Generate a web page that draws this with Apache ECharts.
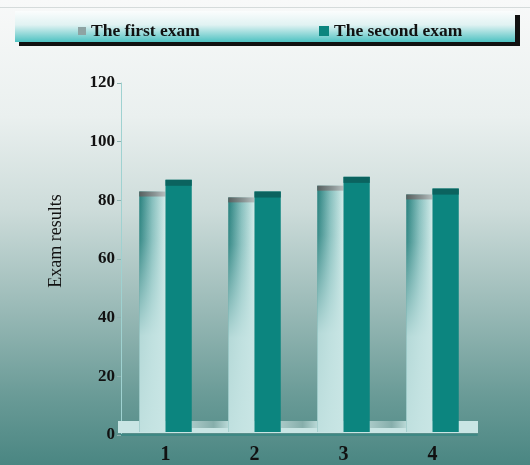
<!DOCTYPE html>
<html>
<head>
<meta charset="utf-8">
<script src="https://cdn.jsdelivr.net/npm/echarts@6/dist/echarts.min.js"></script>
<style>
  html, body { margin: 0; padding: 0; }
  #chart { width: 530px; height: 465px; }
</style>
</head>
<body>
<div id="chart"></div>
<script>
// Exam scores per class group
const categories = ['1', '2', '3', '4'];
const firstExam = [83, 81, 85, 82];
const secondExam = [87, 83, 88, 84];
const seriesNames = ['The first exam', 'The second exam'];
const yAxisTitle = 'Exam results';
const yMin = 0, yMax = 120, yStep = 20;

const SERIF = '"Liberation Serif", "DejaVu Serif", serif';

function barRenderer(which) {
  return function (params, api) {
    const cat = api.value(0);
    const val = api.value(1);
    const top = api.coord([cat, val]);
    const base = api.coord([cat, 0]);
    const band = api.size([1, 0])[0];
    const w = band * 0.295;
    const x = which === 0 ? top[0] - w : top[0];
    const y = top[1];
    const h = base[1] - top[1] - 3;
    const capH = 5;
    const children = [];
    if (which === 0) {
      children.push({
        type: 'rect',
        shape: { x: x, y: y, width: w, height: h },
        style: {
          fill: new echarts.graphic.LinearGradient(0, 0, 1, 0, [
            { offset: 0, color: '#27807d' },
            { offset: 0.5, color: '#86bfbd' },
            { offset: 1, color: '#d3ecea' }
          ])
        }
      });
      children.push({
        type: 'rect',
        shape: { x: x, y: y, width: w, height: h },
        style: {
          fill: new echarts.graphic.LinearGradient(0, 0, 0, 1, [
            { offset: 0, color: 'rgba(200,229,228,0)' },
            { offset: 0.2, color: 'rgba(200,229,228,0.1)' },
            { offset: 0.6, color: 'rgba(200,229,228,0.88)' },
            { offset: 1, color: 'rgba(200,229,228,0.95)' }
          ])
        }
      });
      children.push({
        type: 'rect',
        shape: { x: x, y: y, width: w, height: capH },
        style: {
          fill: new echarts.graphic.LinearGradient(0, 0, 1, 0, [
            { offset: 0, color: '#56605f' },
            { offset: 0.6, color: '#8b9595' },
            { offset: 1, color: '#b7bfbf' }
          ])
        }
      });
    } else {
      children.push({
        type: 'rect',
        shape: { x: x, y: y, width: w, height: h },
        style: { fill: '#0c857f' }
      });
      children.push({
        type: 'rect',
        shape: { x: x, y: y, width: w, height: capH + 1 },
        style: { fill: '#0b635f' }
      });
    }
    return { type: 'group', children: children };
  };
}

function floorRenderer(params, api) {
  const cs = params.coordSys;
  const band = api.size([1, 0])[0];
  const w = band * 0.295;
  const bottom = cs.y + cs.height;
  const children = [{
    type: 'rect',
    shape: { x: cs.x - 3, y: bottom - 14, width: cs.width + 4, height: 12 },
    style: { fill: '#c9e5e4' }
  }];
  // shading on the floor between neighbouring groups
  for (let i = 0; i < categories.length - 1; i++) {
    const c0 = api.coord([i, 0])[0];
    const c1 = api.coord([i + 1, 0])[0];
    children.push({
      type: 'rect',
      shape: { x: c0 + w, y: bottom - 14, width: (c1 - w) - (c0 + w), height: 7 },
      style: {
        fill: new echarts.graphic.LinearGradient(0, 0, 1, 0, [
          { offset: 0, color: '#a9c9c7' },
          { offset: 0.6, color: '#86aeab' },
          { offset: 1, color: '#b9d8d6' }
        ])
      }
    });
  }
  return { type: 'group', children: children };
}

const chart = echarts.init(document.getElementById('chart'), null, { renderer: 'canvas' });

const option = {
  animation: false,
  backgroundColor: new echarts.graphic.LinearGradient(0, 0, 0, 1, [
    { offset: 0, color: '#f8f9f9' },
    { offset: 0.25, color: '#eaf0ef' },
    { offset: 0.45, color: '#cddcda' },
    { offset: 0.65, color: '#9dbcb9' },
    { offset: 0.85, color: '#6a9b97' },
    { offset: 1, color: '#4a8682' }
  ]),
  graphic: [
    { type: 'line', z: 0, shape: { x1: 0, y1: 7.5, x2: 530, y2: 7.5 }, style: { stroke: '#d5dbdb', lineWidth: 1 } },
    { type: 'rect', z: 0, shape: { x: 19, y: 15, width: 501, height: 31 }, style: { fill: '#111111' } },
    {
      type: 'rect', z: 1, shape: { x: 15, y: 11, width: 500, height: 31 },
      style: {
        fill: new echarts.graphic.LinearGradient(0, 0, 0, 1, [
          { offset: 0, color: '#fbfdfd' },
          { offset: 0.45, color: '#e0f2f2' },
          { offset: 1, color: '#4ec2c2' }
        ])
      }
    },
    {
      type: 'text', z: 10, x: 56, y: 241, rotation: Math.PI / 2,
      style: {
        text: yAxisTitle, fontFamily: SERIF, fontSize: 18, fill: '#111',
        textAlign: 'center', textVerticalAlign: 'middle'
      }
    }
  ],
  legend: [
    {
      z: 10, left: 73, top: 17, itemWidth: 8, itemHeight: 8, itemGap: 10,
      icon: 'rect',
      textStyle: { fontFamily: SERIF, fontWeight: 'bold', fontSize: 17.5, color: '#111' },
      data: [{ name: seriesNames[0], itemStyle: { color: '#8ea3a3' } }]
    },
    {
      z: 10, left: 314, top: 17, itemWidth: 10, itemHeight: 10, itemGap: 9,
      icon: 'rect',
      textStyle: { fontFamily: SERIF, fontWeight: 'bold', fontSize: 17.5, color: '#111' },
      data: [{ name: seriesNames[1], itemStyle: { color: '#0c857f' } }]
    }
  ],
  grid: { left: 121, right: 53, top: 83, bottom: 30, containLabel: false },
  xAxis: {
    type: 'category',
    data: categories,
    axisLine: { lineStyle: { color: '#3e8884', width: 2 } },
    axisTick: { show: false },
    axisLabel: { fontFamily: SERIF, fontWeight: 'bold', fontSize: 20, color: '#111', margin: 10 },
    splitLine: { show: false }
  },
  yAxis: {
    type: 'value',
    min: yMin, max: yMax, interval: yStep,
    axisLine: { show: true, lineStyle: { color: '#9fd2d1', width: 1 } },
    axisTick: { show: true, length: 4, lineStyle: { color: '#8fb0ae' } },
    axisLabel: { fontFamily: SERIF, fontWeight: 'bold', fontSize: 17, color: '#111', margin: 6 },
    splitLine: { show: false }
  },
  series: [
    {
      name: 'floor',
      type: 'custom',
      renderItem: floorRenderer,
      data: [[0, 0]],
      silent: true,
      z: 1
    },
    {
      name: seriesNames[0],
      type: 'custom',
      renderItem: barRenderer(0),
      itemStyle: { color: '#8ea3a3' },
      encode: { x: 0, y: 1 },
      data: firstExam.map((v, i) => [i, v]),
      z: 2
    },
    {
      name: seriesNames[1],
      type: 'custom',
      renderItem: barRenderer(1),
      itemStyle: { color: '#0c857f' },
      encode: { x: 0, y: 1 },
      data: secondExam.map((v, i) => [i, v]),
      z: 2
    }
  ]
};

chart.setOption(option);
</script>
</body>
</html>
